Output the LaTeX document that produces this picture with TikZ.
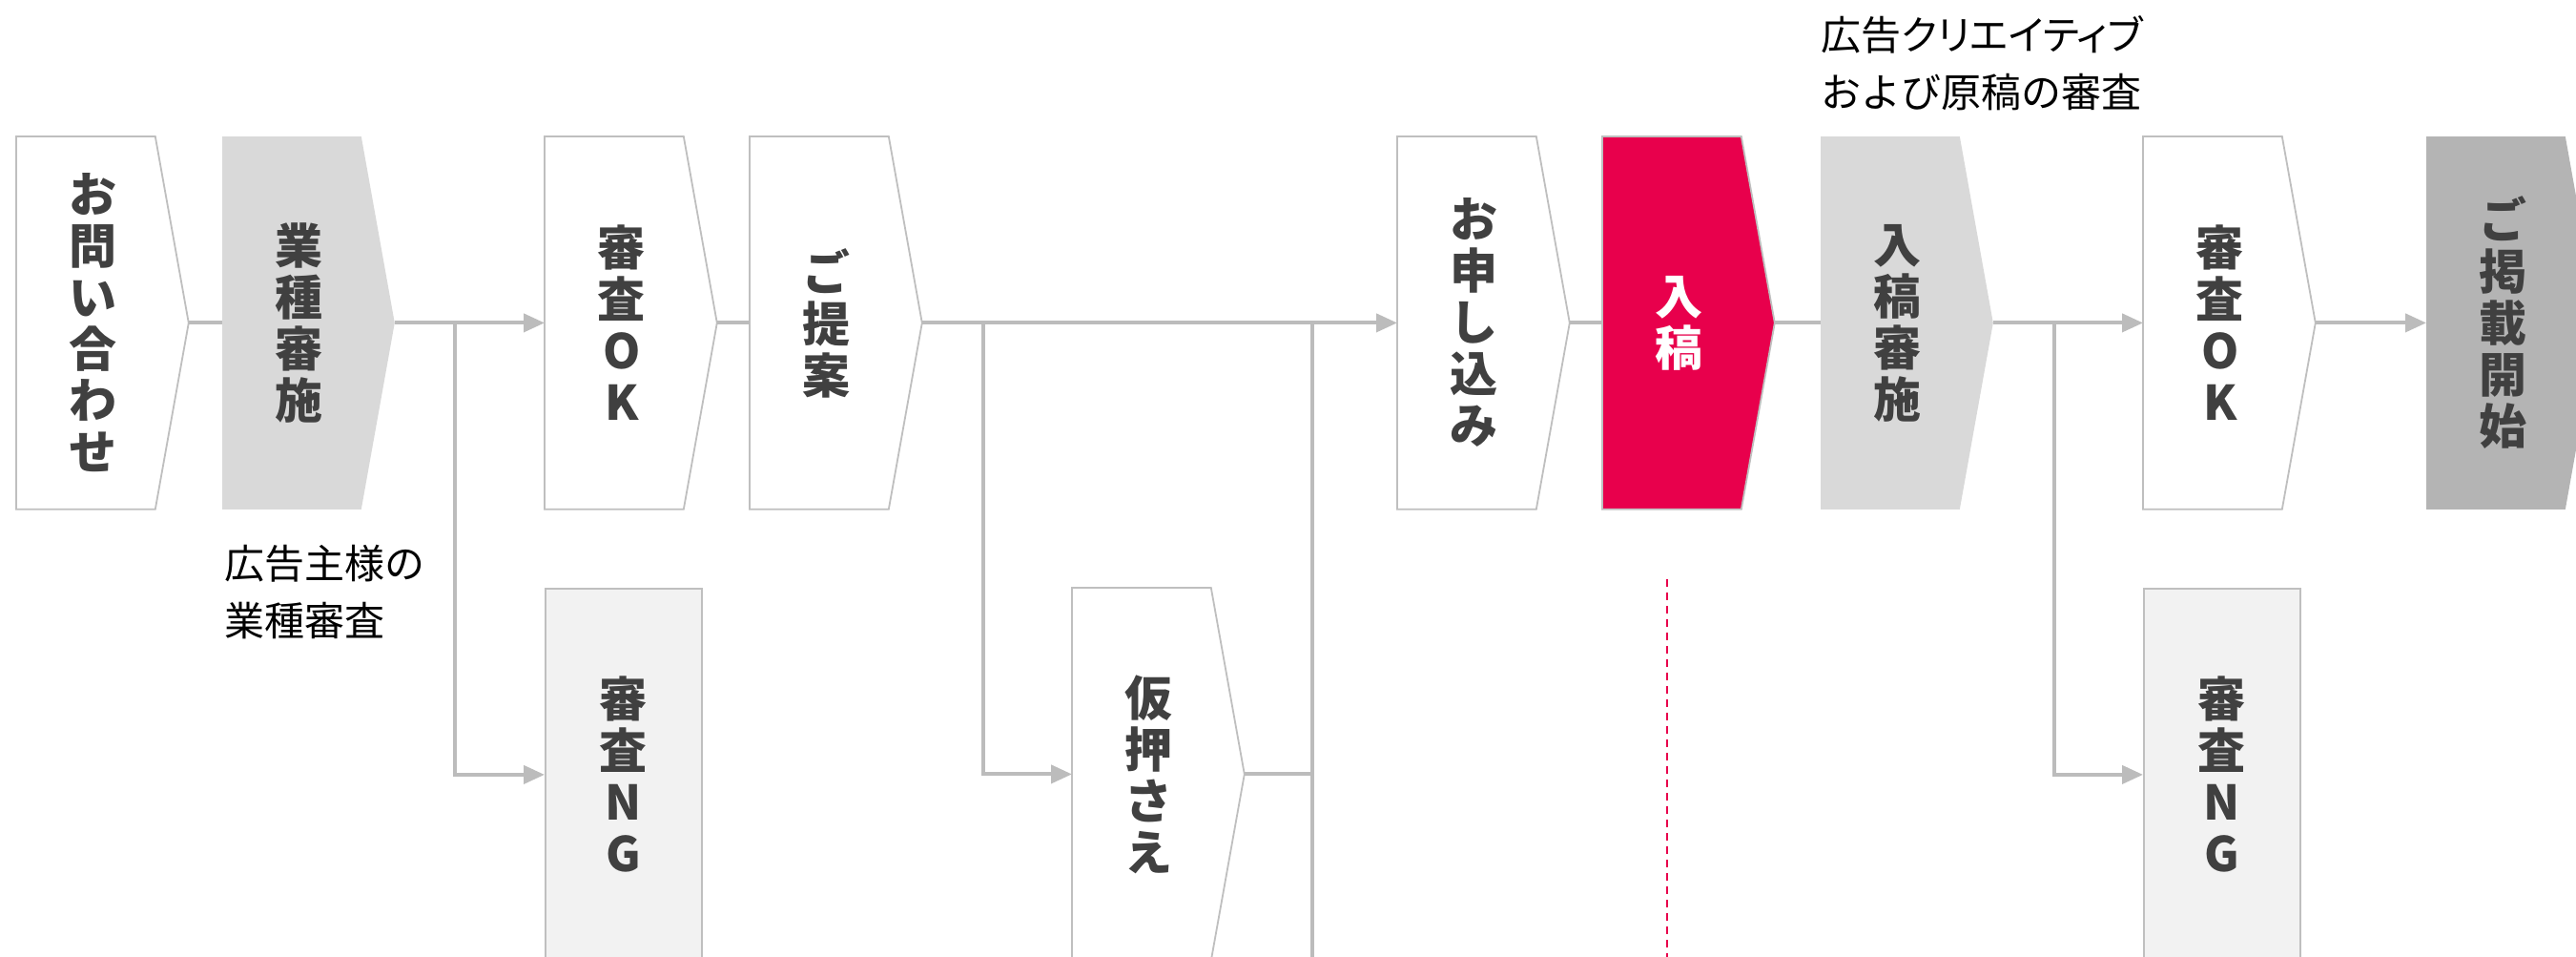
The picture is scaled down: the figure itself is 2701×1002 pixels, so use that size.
\documentclass[tikz,border=0pt]{standalone}
\usepackage{fontspec}
\setmainfont{Noto Sans CJK JP}
\usetikzlibrary{arrows.meta,backgrounds}
\definecolor{bordergray}{HTML}{BFBFBF}
\definecolor{conngray}{HTML}{BCBCBC}
\definecolor{lightfill}{HTML}{D9D9D9}
\definecolor{darkfill}{HTML}{B4B4B4}
\definecolor{ngfill}{HTML}{F2F2F2}
\definecolor{crimson}{HTML}{E8004C}
\definecolor{textgray}{HTML}{404040}
\newcommand\chevshape[2]{\path[#2] (#1.north west) -- (#1.north east) -- ([xshift=17.5pt]#1.east) -- (#1.south east) -- (#1.south west) -- cycle;}
\newcommand\proptext[1]{{\addfontfeatures{RawFeature=+palt}#1}}
\tikzset{
  stage/.style={rectangle, inner sep=0pt, minimum width=72.5pt, minimum height=195pt, anchor=north west},
  ngbox/.style={rectangle, draw=bordergray, line width=0.9pt, fill=ngfill, inner sep=0pt,
    minimum width=82pt, minimum height=195pt, anchor=north west, align=center,
    font=\fontsize{25}{27}\selectfont\bfseries, text=textgray},
  vtext/.style={inner sep=0pt, align=center, font=\fontsize{25}{27}\selectfont\bfseries, text=textgray},
  conn/.style={draw=conngray, line width=2pt},
  arr/.style={-{Triangle[length=11pt,width=9.5pt]}},
  note/.style={inner sep=0pt, anchor=north west, align=left, font=\fontsize{21}{30}\selectfont, text=black},
  chevwhite/.style={fill=white, draw=bordergray, line width=0.9pt},
  chevlight/.style={fill=lightfill},
  chevdark/.style={fill=darkfill},
  chevred/.style={fill=crimson, draw=bordergray, line width=0.9pt},
  dashline/.style={draw=crimson, line width=1.1pt, dash pattern=on 4pt off 3pt}
}
\begin{document}
\begin{tikzpicture}[x=0.5pt,y=-0.5pt]
\useasboundingbox (0,0) rectangle (2701,1002);
% stage bodies
\node[stage] (b1) at (17,143) {};
\node[stage] (b2) at (233,143) {};
\node[stage] (b3) at (571,143) {};
\node[stage] (b4) at (786,143) {};
\node[stage] (b5) at (1465,143) {};
\node[stage] (b6) at (1680,143) {};
\node[stage] (b7) at (1909,143) {};
\node[stage] (b8) at (2247,143) {};
\node[stage] (b9) at (2544,143) {};
\node[stage] (kari) at (1124,616) {};
\begin{scope}[on background layer]
  \chevshape{b1}{chevwhite}
  \chevshape{b2}{chevlight}
  \chevshape{b3}{chevwhite}
  \chevshape{b4}{chevwhite}
  \chevshape{b5}{chevwhite}
  \chevshape{b6}{chevred}
  \chevshape{b7}{chevlight}
  \chevshape{b8}{chevwhite}
  \chevshape{b9}{chevdark}
  \chevshape{kari}{chevwhite}
\end{scope}
% texts
\node[vtext] (t1) at ([xshift=4pt]b1.center) {お\\問\\い\\合\\わ\\せ};
\node[vtext] (t2) at ([xshift=4pt]b2.center) {業\\種\\審\\施};
\node[vtext] (t3) at ([xshift=4pt]b3.center) {審\\査\\O\\K};
\node[vtext] (t4) at ([xshift=4pt]b4.center) {ご\\提\\案};
\node[vtext] (t5) at ([xshift=4pt]b5.center) {お\\申\\し\\込\\み};
\node[vtext, text=white] (t6) at ([xshift=4pt]b6.center) {入\\稿};
\node[vtext] (t7) at ([xshift=4pt]b7.center) {入\\稿\\審\\施};
\node[vtext] (t8) at ([xshift=4pt]b8.center) {審\\査\\O\\K};
\node[vtext] (t9) at ([xshift=4pt]b9.center) {ご\\掲\\載\\開\\始};
\node[vtext] (tk) at ([xshift=4pt]kari.center) {仮\\押\\さ\\え};
\node[ngbox] (ng1) at (571,616) {審\\査\\N\\G};
\node[ngbox] (ng2) at (2247,616) {審\\査\\N\\G};
% tips
\coordinate (b1tip) at ([xshift=17.5pt]b1.east);
\coordinate (b2tip) at ([xshift=17.5pt]b2.east);
\coordinate (b3tip) at ([xshift=17.5pt]b3.east);
\coordinate (b4tip) at ([xshift=17.5pt]b4.east);
\coordinate (b5tip) at ([xshift=17.5pt]b5.east);
\coordinate (b6tip) at ([xshift=17.5pt]b6.east);
\coordinate (b7tip) at ([xshift=17.5pt]b7.east);
\coordinate (b8tip) at ([xshift=17.5pt]b8.east);
\coordinate (karitip) at ([xshift=17.5pt]kari.east);
% junctions
\coordinate (br1) at (477,338);
\coordinate (br2) at (1030.5,338);
\coordinate (br3) at (2154,338);
\coordinate (j0) at (1376,338);
\coordinate (j1) at (1376,1012);
\coordinate (d0) at (1748,607);
\coordinate (d1) at (1748,1012);
% connectors
\draw[conn] (b1tip) -- (b2.west);
\draw[conn,arr] (b2tip) -- (b3.west);
\draw[conn,arr] (br1) |- (ng1.west);
\draw[conn] (b3tip) -- (b4.west);
\draw[conn,arr] (b4tip) -- (b5.west);
\draw[conn,arr] (br2) |- (kari.west);
\draw[conn] (j0) -- (j1);
\draw[conn] (karitip) -- (karitip -| j0);
\draw[conn] (b5tip) -- (b6.west);
\draw[conn] (b6tip) -- (b7.west);
\draw[conn,arr] (b7tip) -- (b8.west);
\draw[conn,arr] (br3) |- (ng2.west);
\draw[conn,arr] (b8tip) -- (b9.west);
\draw[dashline] (d0) -- (d1);
% notes
\node[note] (n1) at (235,571) {広告主様の\\業種審査};
\node[note] (n2) at (1909,16) {広告\proptext{クリエイティブ}\\および原稿の審査};
\end{tikzpicture}
\end{document}
